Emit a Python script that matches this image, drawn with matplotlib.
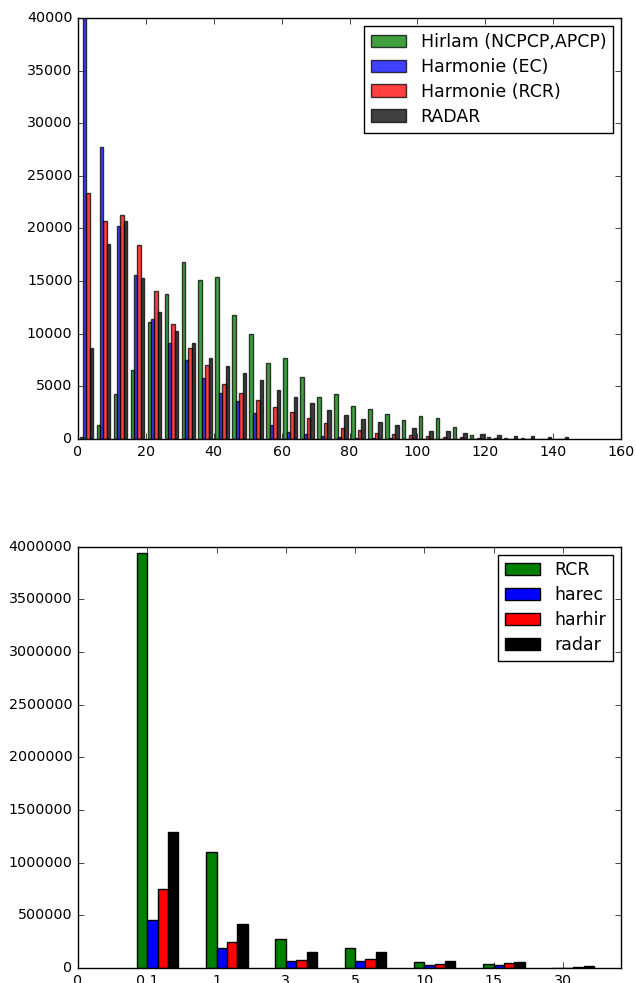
import numpy as np
import matplotlib
matplotlib.use("Agg")
import matplotlib.pyplot as plt

plt.style.use('classic')
plt.rcParams['figure.facecolor'] = 'white'
plt.rcParams['savefig.facecolor'] = 'white'
plt.rcParams['font.family'] = ['DejaVu Sans']

# ---------------- top chart data (histogram counts per 5-unit bin) ----------------
bin_starts = list(range(0, 145, 5))  # 0..140, bins of width 5
hirlam = [150, 1330, 4240, 6520, 11120, 13810, 16820, 15110, 15360, 11780, 9980, 7190,
          7660, 5890, 3960, 4240, 3100, 2850, 2380, 1840, 2150, 2000, 1110, 410, 160,
          100, 60, 40, 0]
harmonie_ec = [48000, 27740, 20200, 15580, 11370, 9120, 7510, 5760, 4340, 3610, 2440, 1330,
               700, 510, 320, 190, 110, 80, 60, 40, 30, 20, 10, 10, 5, 5, 0, 0, 0]
harmonie_rcr = [23400, 20680, 21280, 18430, 14090, 10960, 8610, 7000, 5260, 4340, 3710, 3040,
                2600, 1960, 1520, 1080, 820, 570, 475, 350, 285, 190, 160, 80, 50, 30, 20, 10, 5]
radar = [8680, 18500, 20710, 15330, 12030, 10260, 9090, 7660, 6940, 6240, 5570, 4630,
         4020, 3390, 2790, 2310, 1900, 1580, 1300, 1045, 790, 750, 540, 440, 410, 320,
         250, 200, 160]
top_labels = ['Hirlam (NCPCP,APCP)', 'Harmonie (EC)', 'Harmonie (RCR)', 'RADAR']
top_colors = ['green', 'blue', 'red', 'black']

# ---------------- bottom chart data (counts per threshold class) ----------------
tick_labels = ['0', '0.1', '1', '3', '5', '10', '15', '30']
classes = ['0.1', '1', '3', '5', '10', '15', '30']
rcr = [3940000, 1106000, 279000, 192000, 57000, 35000, 2000]
harec = [460000, 187000, 67000, 67000, 28000, 25000, 1000]
harhir = [748000, 250000, 78000, 88000, 41000, 44000, 9500]
radar_b = [1293000, 418000, 149000, 149000, 63000, 57000, 16000]
bot_labels = ['RCR', 'harec', 'harhir', 'radar']
bot_colors = ['green', 'blue', 'red', 'black']

fig = plt.figure(figsize=(6.36, 9.83), dpi=100)

# ---------------- top axes ----------------
ax1 = fig.add_axes([78/636, 1-439/983, (621-78)/636, (439-18)/983])
edges = np.array(bin_starts + [bin_starts[-1] + 5], dtype=float)
centers = (edges[:-1] + edges[1:]) / 2
data = [centers] * 4
weights = [np.array(v, dtype=float) for v in (hirlam, harmonie_ec, harmonie_rcr, radar)]
ax1.hist(data, bins=edges, weights=weights, color=top_colors, alpha=0.75,
         label=top_labels, edgecolor='black', linewidth=1.0)
ax1.set_xlim(0, 160)
ax1.set_ylim(0, 40000)
ax1.set_xticks(np.arange(0, 161, 20))
ax1.set_yticks(np.arange(0, 40001, 5000))
ax1.tick_params(labelsize=10.3)
leg1 = ax1.legend(loc='upper right', fontsize=12.5, fancybox=False, borderaxespad=0.45,
                  handlelength=2.0, handletextpad=0.85, borderpad=0.4, labelspacing=0.4)

# ---------------- bottom axes ----------------
ax2 = fig.add_axes([78/636, 1-968/983, (621-78)/636, (968-546.7)/983])
w = 0.15
pos = np.arange(1, len(classes) + 1)
series = [rcr, harec, harhir, radar_b]
for k, (vals, col, lab) in enumerate(zip(series, bot_colors, bot_labels)):
    ax2.bar(pos + (k - 1) * w, vals, width=w, align='edge', color=col,
            edgecolor='black', linewidth=1.0, label=lab)
ax2.set_xticks(np.arange(len(tick_labels)))
ax2.set_xticklabels(tick_labels)
ax2.set_xlim(0, 7.84)
ax2.set_ylim(0, 4000000)
ax2.set_yticks(np.arange(0, 4000001, 500000))
ax2.ticklabel_format(axis='y', style='plain', useOffset=False)
ax2.tick_params(labelsize=10.3)
leg2 = ax2.legend(loc='upper right', fontsize=12.5, fancybox=False, borderaxespad=0.45,
                  handlelength=2.0, handletextpad=0.85, borderpad=0.4, labelspacing=0.4)

fig.savefig('out.png', dpi=100)
